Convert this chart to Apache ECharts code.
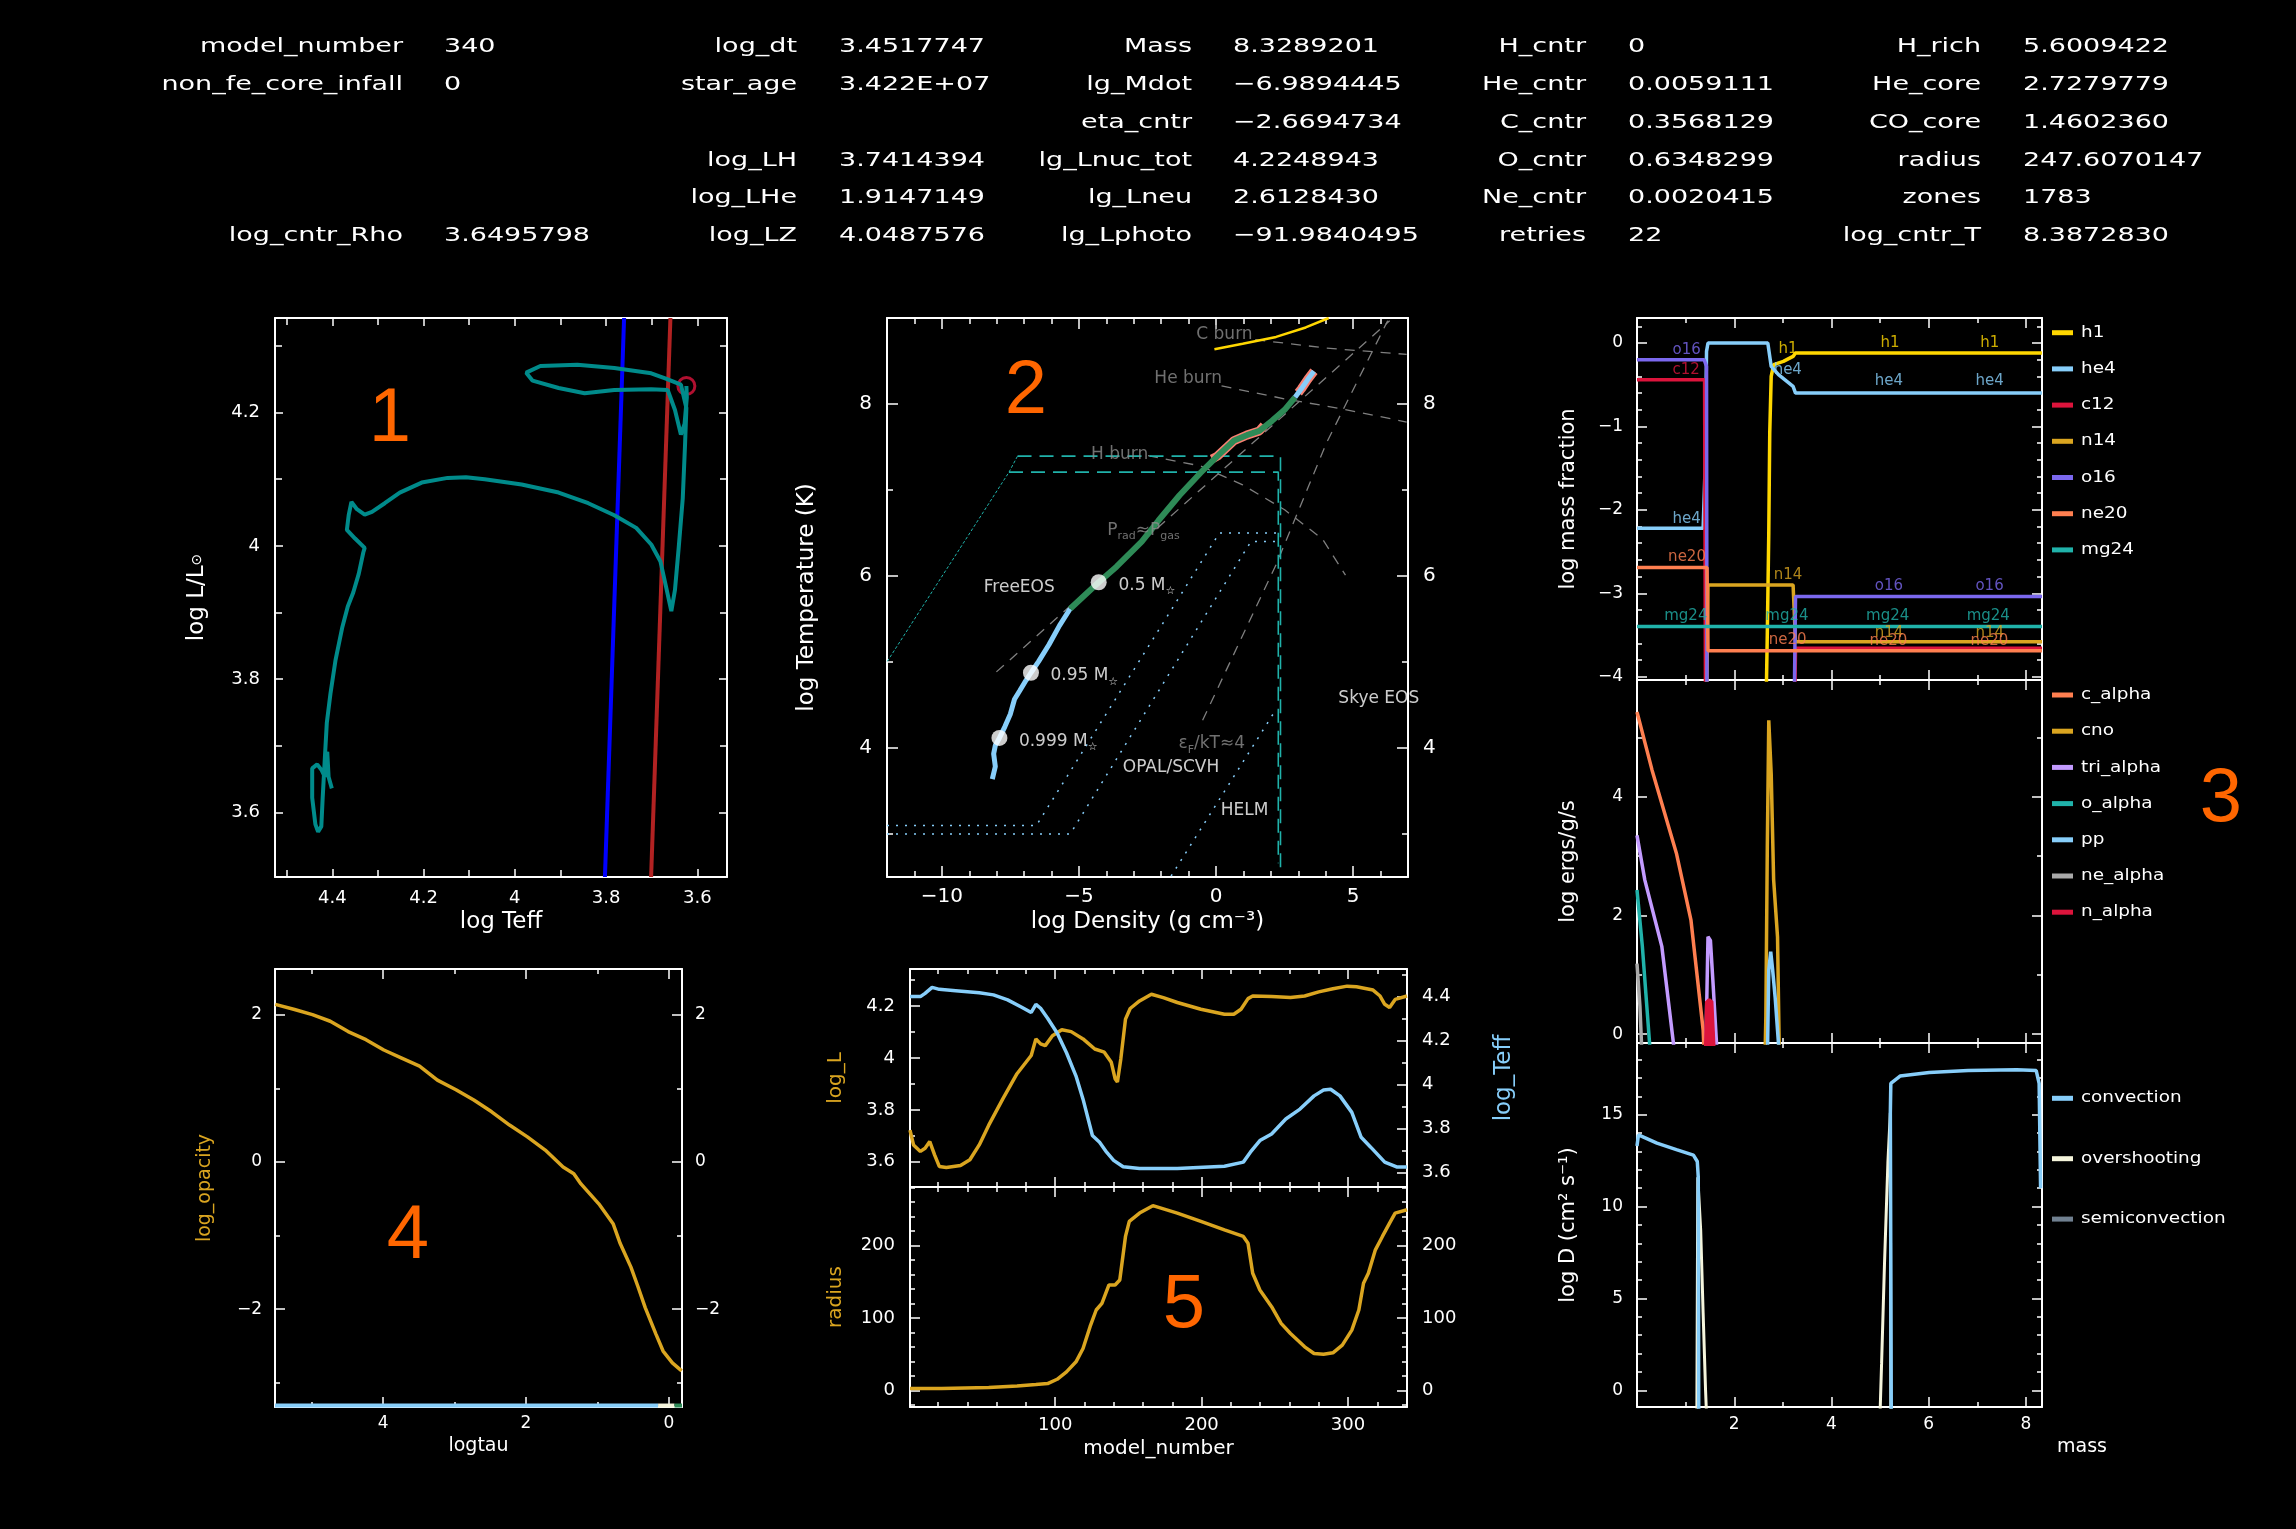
<!DOCTYPE html>
<html>
<head>
<meta charset="utf-8">
<title>pgstar grid</title>
<script src="https://cdn.jsdelivr.net/npm/echarts@6/dist/echarts.min.js"></script>
<style>
  html, body { margin: 0; padding: 0; background: #000; }
  #chart { width: 2296px; height: 1529px; }
</style>
</head>
<body>
<div id="chart"></div>
<script>
// ---------- header text ----------
const headNames = [
  ['model_number', 'non_fe_core_infall', '', '', '', 'log_cntr_Rho'],
  ['log_dt', 'star_age', '', 'log_LH', 'log_LHe', 'log_LZ'],
  ['Mass', 'lg_Mdot', 'eta_cntr', 'lg_Lnuc_tot', 'lg_Lneu', 'lg_Lphoto'],
  ['H_cntr', 'He_cntr', 'C_cntr', 'O_cntr', 'Ne_cntr', 'retries'],
  ['H_rich', 'He_core', 'CO_core', 'radius', 'zones', 'log_cntr_T']
];
const headValues = [
  ['340', '0', '', '', '', '3.6495798'],
  ['3.4517747', '3.422E+07', '', '3.7414394', '1.9147149', '4.0487576'],
  ['8.3289201', '\u22126.9894445', '\u22122.6694734', '4.2248943', '2.6128430', '\u221291.9840495'],
  ['0', '0.0059111', '0.3568129', '0.6348299', '0.0020415', '22'],
  ['5.6009422', '2.7279779', '1.4602360', '247.6070147', '1783', '8.3872830']
];

// ---------- panel 1: HR diagram (log Teff, log L) ----------
const hrTrack = [
  [4.401, 3.636], [4.408, 3.653], [4.411, 3.691], [4.415, 3.678], [4.416, 3.653],
  [4.423, 3.663], [4.433, 3.672], [4.444, 3.666], [4.444, 3.622], [4.437, 3.582],
  [4.431, 3.571], [4.424, 3.579], [4.421, 3.622], [4.416, 3.685], [4.412, 3.734],
  [4.404, 3.778], [4.393, 3.828], [4.378, 3.878], [4.366, 3.909], [4.354, 3.930],
  [4.342, 3.958], [4.332, 3.990], [4.329, 3.997], [4.350, 4.011], [4.368, 4.024],
  [4.364, 4.046], [4.358, 4.066], [4.346, 4.055], [4.329, 4.047], [4.313, 4.051],
  [4.285, 4.064], [4.252, 4.080], [4.204, 4.095], [4.147, 4.102], [4.107, 4.103],
  [4.066, 4.100], [3.985, 4.092], [3.904, 4.080], [3.839, 4.064], [3.782, 4.046],
  [3.734, 4.027], [3.701, 4.002], [3.681, 3.977], [3.669, 3.940], [3.657, 3.902],
  [3.649, 3.934], [3.641, 3.996], [3.632, 4.071], [3.627, 4.151], [3.624, 4.207],
  [3.636, 4.242], [3.669, 4.251], [3.701, 4.259], [3.782, 4.267], [3.863, 4.272],
  [3.944, 4.270], [3.975, 4.260], [3.961, 4.248], [3.904, 4.237], [3.847, 4.229],
  [3.782, 4.234], [3.701, 4.235], [3.665, 4.234], [3.649, 4.204], [3.636, 4.167],
  [3.628, 4.183], [3.623, 4.223], [3.624, 4.240]
];
const blueEdge = [[3.8025, 3.503], [3.7605, 4.342]];
const redEdge = [[3.7013, 3.503], [3.659, 4.342]];
const hrNow = [[3.624, 4.240]];

// ---------- panel 2: log rho - log T ----------
const profLow = [
  [-8.16, 3.638], [-8.05, 3.785], [-8.11, 3.932], [-8.05, 4.029], [-7.90, 4.117],
  [-7.70, 4.249], [-7.50, 4.396], [-7.35, 4.567], [-7.16, 4.665], [-6.93, 4.787],
  [-6.75, 4.875], [-6.47, 5.007], [-6.09, 5.203], [-5.71, 5.423], [-5.32, 5.619]
];
const profMid = [
  [-5.32, 5.619], [-4.86, 5.756], [-4.28, 5.927], [-3.63, 6.108], [-2.71, 6.401],
  [-2.10, 6.645], [-1.33, 6.939], [-0.57, 7.198], [0.05, 7.394], [0.66, 7.575],
  [1.12, 7.638], [1.58, 7.687], [2.04, 7.804], [2.50, 7.932], [2.88, 8.078]
];
const profTop = [[2.88, 8.078], [3.11, 8.176], [3.34, 8.284], [3.57, 8.381]];
const profEdgeA = [[-0.15, 7.36], [0.05, 7.394], [0.66, 7.575], [1.12, 7.638], [1.58, 7.687], [1.75, 7.75]];
const profEdgeB = [[3.0, 8.13], [3.11, 8.176], [3.34, 8.284], [3.57, 8.381]];
const massMarks = [[-4.28, 5.927], [-6.75, 4.875], [-7.90, 4.117]];
const burnC = [[-0.06, 8.636], [0.97, 8.70], [2.19, 8.78], [3.27, 8.89], [4.11, 9.0]];
const burnCdash = [[1.43, 8.748], [4.03, 8.65], [6.95, 8.577]];
const burnHeDash = [[0.2, 8.21], [2.5, 8.06], [4.65, 7.94], [6.95, 7.79]];
const burnHDash = [[-2.48, 7.40], [-0.57, 7.28], [0.97, 7.06], [2.5, 6.77], [3.88, 6.43], [4.72, 6.01]];
const pradLine = [[-8.01, 4.885], [6.33, 8.968]];
const degenLine = [[-0.49, 4.323], [2.19, 6.132], [4.03, 7.55], [6.26, 8.968]];
const freeEosA = [[-7.24, 7.394], [2.35, 7.394], [2.35, 2.587]];
const freeEosB = [[-7.55, 7.208], [2.27, 7.208], [2.27, 2.66]];
const freeEosDiag = [[-11.99, 5.007], [-7.55, 7.208], [-7.24, 7.394]];
const opalA = [[-12, 3.10], [-6.55, 3.10], [0.12, 6.50], [2.35, 6.50]];
const opalB = [[-12, 3.0], [-5.32, 3.0], [1.27, 6.40], [2.35, 6.40]];
const helmLine = [[-1.64, 2.51], [2.19, 4.45]];
const eosLabels = [
  ['FreeEOS', -8.47, 5.86], ['0.5 M{s|\u2606}', -3.56, 5.89], ['0.95 M{s|\u2606}', -6.04, 4.84],
  ['0.999 M{s|\u2606}', -7.19, 4.08], ['Skye EOS', 4.46, 4.57], ['OPAL/SCVH', -3.40, 3.77], ['HELM', 0.17, 3.27]
];
const burnLabels = [
  ['C burn', -0.72, 8.81], ['He burn', -2.25, 8.29], ['H burn', -4.56, 7.41],
  ['P{s|rad}\u2248P{s|gas}', -3.97, 6.53], ['\u03b5{s|F}/kT\u22484', -1.37, 4.05]
];

// ---------- panel 3: abundances, burning, mixing vs mass ----------
const abunNames = ['h1', 'he4', 'c12', 'n14', 'o16', 'ne20', 'mg24'];
const abunColors = ['#FFD700', '#87CEFA', '#DC143C', '#DAA520', '#7B68EE', '#FF7F50', '#20B2AA'];
const h1 = [[2.65, -4.5], [2.68, -3.48], [2.71, -2.28], [2.73, -1.08], [2.76, -0.40], [2.81, -0.26], [3.01, -0.22], [3.21, -0.16], [3.26, -0.12], [8.33, -0.12]];
const he4 = [[0, -2.22], [1.36, -2.22], [1.40, -1.5], [1.43, -0.1], [1.46, 0], [2.69, 0], [2.76, -0.28], [2.91, -0.38], [3.21, -0.52], [3.26, -0.60], [8.33, -0.60]];
const c12 = [[0, -0.44], [1.39, -0.44], [1.41, -4.5], [3.24, -4.5], [3.26, -3.66], [8.33, -3.66]];
const n14 = [[1.43, -4.5], [1.46, -2.9], [3.21, -2.9], [3.26, -3.58], [8.33, -3.58]];
const o16 = [[0, -0.20], [1.38, -0.20], [1.43, -0.28], [1.44, -4.5], [3.23, -4.5], [3.26, -3.04], [8.33, -3.04]];
const ne20 = [[0, -2.69], [1.44, -2.69], [1.46, -3.69], [8.33, -3.69]];
const mg24 = [[0, -3.40], [8.33, -3.40]];
const abunLabels = [
  ['o16', 0.73, -0.08], ['c12', 0.73, -0.33], ['he4', 0.73, -2.11], ['ne20', 0.64, -2.57], ['mg24', 0.56, -3.27],
  ['h1', 2.91, -0.07], ['he4', 2.81, -0.32], ['n14', 2.81, -2.78], ['mg24', 2.64, -3.27], ['ne20', 2.71, -3.56],
  ['h1', 5.01, 0.0], ['h1', 7.06, 0.0], ['he4', 4.89, -0.46], ['he4', 6.96, -0.46],
  ['o16', 4.89, -2.92], ['o16', 6.96, -2.92], ['mg24', 4.71, -3.27], ['mg24', 6.78, -3.27],
  ['n14', 4.89, -3.48], ['n14', 6.96, -3.48], ['ne20', 4.78, -3.57], ['ne20', 6.86, -3.57]
];

const burnNames = ['c_alpha', 'cno', 'tri_alpha', 'o_alpha', 'pp', 'ne_alpha', 'n_alpha'];
const burnColors = ['#FF7F50', '#DAA520', '#C39BFF', '#20B2AA', '#87CEFA', '#A9A9A9', '#DC143C'];
const cAlpha = [[0, 5.43], [0.31, 4.45], [0.81, 3.05], [1.11, 1.92], [1.36, 0.07], [1.39, -0.5]];
const cno = [[2.63, -0.5], [2.65, 0.3], [2.68, 3.16], [2.71, 5.29], [2.73, 5.3], [2.76, 4.39], [2.81, 2.6], [2.89, 1.64], [2.93, -0.5]];
const triAlpha = [[0, 3.35], [0.16, 2.6], [0.51, 1.48], [0.80, -0.5], [1.41, -0.5], [1.46, 1.64], [1.51, 1.58], [1.56, 0.91], [1.66, -0.5]];
const oAlpha = [[0, 2.43], [0.11, 1.48], [0.29, -0.5]];
const pp = [[2.68, -0.5], [2.71, 1.08], [2.75, 1.39], [2.79, 1.08], [2.84, 0.63], [2.94, -0.5]];
const neAlpha = [[0, 1.19], [0.06, 0.47], [0.11, -0.5]];
const nAlpha = [[1.43, -0.5], [1.46, 0.55], [1.51, 0.55], [1.57, -0.5]];

const mixNames = ['convection', 'overshooting', 'semiconvection'];
const mixColors = ['#87CEFA', '#F5F5DC', '#708090'];
const convection = [[0, 13.3], [0.03, 13.9], [0.41, 13.45], [0.81, 13.1], [1.16, 12.8], [1.24, 12.45], [1.26, 11.6], [1.27, -2],
  [5.23, -2], [5.21, 15.1], [5.22, 16.7], [5.41, 17.1], [6.01, 17.3], [6.81, 17.4], [7.81, 17.45], [8.21, 17.4], [8.27, 16.7], [8.30, 11]];
const overshoot = [[1.23, -2], [1.25, 11.6], [1.31, 8.7], [1.36, 4.2], [1.41, 0], [1.44, -2],
  [4.99, -2], [5.03, 1.45], [5.09, 6.9], [5.16, 12.4], [5.21, 15.1], [5.22, -2]];

// ---------- panel 4: opacity vs logtau ----------
const opacity = [
  [5.51, 2.14], [5.24, 2.07], [4.99, 2.0], [4.74, 1.91], [4.49, 1.77], [4.24, 1.66], [3.99, 1.52],
  [3.74, 1.41], [3.49, 1.30], [3.24, 1.11], [2.98, 0.98], [2.73, 0.84], [2.48, 0.68], [2.23, 0.5],
  [1.98, 0.34], [1.73, 0.16], [1.48, -0.07], [1.33, -0.16], [1.23, -0.30], [0.98, -0.57], [0.78, -0.84],
  [0.68, -1.11], [0.53, -1.43], [0.43, -1.70], [0.33, -1.98], [0.18, -2.34], [0.08, -2.57], [-0.05, -2.73], [-0.18, -2.84]
];
const tauConv = [[5.514, -3.31], [0.15, -3.31]];
const tauOver = [[0.15, -3.31], [-0.08, -3.31]];
const tauNone = [[-0.08, -3.31], [-0.185, -3.31]];

// ---------- panel 5: history vs model_number ----------
const histLogL = [
  [0.8, 3.722], [3.2, 3.665], [7.9, 3.64], [11.1, 3.652], [14.3, 3.678], [17.6, 3.627], [20.8, 3.582],
  [25.6, 3.578], [35.3, 3.586], [41.7, 3.608], [48.1, 3.665], [54.6, 3.741], [64.3, 3.843], [73.9, 3.939],
  [83.6, 4.009], [86.8, 4.073], [90.0, 4.054], [93.2, 4.047], [98.1, 4.085], [104.5, 4.108], [110.9, 4.101],
  [119, 4.073], [127, 4.034], [133.5, 4.022], [138.3, 3.983], [140.9, 3.920], [142.5, 3.907], [144.8, 3.996],
  [148, 4.149], [151.2, 4.19], [157.6, 4.219], [165.7, 4.245], [173.8, 4.232], [183.4, 4.213], [199.5, 4.187],
  [215.6, 4.168], [222, 4.168], [226.9, 4.187], [231.7, 4.228], [234.9, 4.238], [247.8, 4.236], [260.7, 4.232],
  [270.4, 4.238], [280, 4.254], [289.7, 4.266], [299.4, 4.276], [305.8, 4.274], [317.1, 4.261], [321.9, 4.238],
  [325.1, 4.206], [328.4, 4.194], [332.2, 4.225], [340.3, 4.238]
];
const histTeff = [
  [0.8, 4.4], [7.9, 4.4], [11.1, 4.415], [15.9, 4.442], [20.8, 4.433], [32.0, 4.427], [48.1, 4.418],
  [57.8, 4.408], [67.5, 4.385], [77.1, 4.352], [83.6, 4.328], [86.8, 4.365], [90, 4.347], [94.8, 4.302],
  [101.3, 4.235], [107.7, 4.145], [114.2, 4.039], [119, 3.934], [125.4, 3.769], [130.3, 3.738], [135.1, 3.693],
  [139.9, 3.656], [146.4, 3.627], [157.6, 3.619], [183.4, 3.619], [215.6, 3.629], [228.5, 3.648], [233.3, 3.693],
  [239.8, 3.746], [247.8, 3.776], [257.5, 3.844], [267.2, 3.889], [276.8, 3.949], [283.3, 3.976], [288.1, 3.979],
  [294.5, 3.949], [302.6, 3.874], [309, 3.761], [315.5, 3.716], [325.1, 3.648], [333.2, 3.626], [340.3, 3.626]
];
const histRadius = [
  [0.8, 2.3], [22.4, 2.3], [54.6, 3.7], [73.9, 6], [86.8, 7.9], [94.8, 9.2], [101.3, 15.2], [107.7, 25.4],
  [114.2, 39.3], [119, 57.7], [123.8, 87.8], [128, 110.9], [131.9, 120.1], [136.7, 145.5], [140.9, 145.5],
  [144.1, 152.4], [148, 212.5], [150.6, 233.3], [157.6, 244.8], [166.7, 255], [183.4, 244.8], [199.5, 233.3],
  [215.6, 221.7], [228.5, 212.5], [231.7, 203.2], [234.9, 161.7], [239.8, 138.6], [247.8, 115.5], [254.3, 92.4],
  [260.7, 78.5], [270.4, 60], [276.8, 50.8], [283.3, 49.9], [289.7, 51.7], [296.1, 62.4], [302.6, 83.1],
  [307.4, 110.9], [310.6, 147.8], [313.9, 161.7], [318.7, 194], [323.5, 212.5], [328.4, 230.9], [332.2, 244.8], [340.3, 249.4]
];

// ---------- helpers ----------
const FONT = 'DejaVu Sans';
const ORANGE = '#FF6600';
const GOLD = '#DAA520';
const SKY = '#87CEFA';

function onStep(v, s) { const k = v / s; return Math.abs(k - Math.round(k)) < 1e-6; }
function fmtNum(v) { return String(+v.toFixed(4)).replace('-', '\u2212'); }

const xAxes = [], yAxes = [];

function axis(grid, pos, range, step, len, o) {
  o = o || {};
  const hide = o.hide || [];
  const a = {
    type: 'value', gridIndex: grid, position: pos,
    min: range[0], max: range[1], minInterval: step, maxInterval: step,
    inverse: !!o.inverse,
    axisLine: { show: !o.minor, onZero: false, lineStyle: { color: '#fff', width: 2 } },
    axisTick: { show: true, inside: true, length: len, lineStyle: { color: '#fff', width: 1.5 } },
    axisLabel: {
      show: !!o.label, color: '#fff', fontFamily: FONT, fontSize: o.fs || 17, margin: o.margin || 12,
      formatter: function (v) {
        if (hide.some(function (h) { return Math.abs(h - v) < 1e-9; })) return '';
        return onStep(v, step) ? fmtNum(v) : '';
      }
    },
    splitLine: { show: false }
  };
  if (o.name) {
    a.name = o.name;
    a.nameLocation = 'middle';
    a.nameGap = o.gap;
    if (o.rotate != null) a.nameRotate = o.rotate;
    a.nameTextStyle = { color: o.nameColor || '#fff', fontFamily: FONT, fontSize: o.nameFs || 21, rich: o.rich };
  }
  return a;
}

// four sides of a pgplot-style box, major + minor ticks pointing in
function addBox(g, s) {
  const xi = xAxes.length, yi = yAxes.length;
  xAxes.push(axis(g, 'bottom', s.x, s.xMaj, s.majLen, { inverse: s.xInv, label: s.xLabel, hide: s.xHide, fs: s.fs, margin: s.xMargin, name: s.xName, gap: s.xGap, nameFs: s.nameFs }));
  xAxes.push(axis(g, 'bottom', s.x, s.xMin, s.minLen, { inverse: s.xInv, minor: true }));
  xAxes.push(axis(g, 'top', s.x, s.xMaj, s.majLen, { inverse: s.xInv }));
  xAxes.push(axis(g, 'top', s.x, s.xMin, s.minLen, { inverse: s.xInv, minor: true }));
  const y2 = s.y2 || s.y, y2Maj = s.y2Maj || s.yMaj, y2Min = s.y2Min || s.yMin;
  yAxes.push(axis(g, 'left', s.y, s.yMaj, s.majLen, { label: true, fs: s.fs, margin: s.yMargin, name: s.yName, gap: s.yGap, nameFs: s.nameFs, nameColor: s.yNameColor, rotate: 90, rich: s.rich }));
  yAxes.push(axis(g, 'left', s.y, s.yMin, s.minLen, { minor: true }));
  yAxes.push(axis(g, 'right', y2, y2Maj, s.majLen, { label: s.rightLabel, fs: s.fs, margin: s.yMargin, name: s.y2Name, gap: s.y2Gap, nameFs: s.y2NameFs, nameColor: s.y2NameColor, rotate: 90 }));
  yAxes.push(axis(g, 'right', y2, y2Min, s.minLen, { minor: true }));
  return { x: xi, y: yi, y2: yi + 2 };
}

function line(ax, data, color, width, dash, right) {
  return {
    type: 'line', xAxisIndex: ax.x, yAxisIndex: right ? ax.y2 : ax.y, data: data,
    symbol: 'none', silent: true, clip: true,
    lineStyle: { color: color, width: width, type: dash || 'solid' }, itemStyle: { color: color }
  };
}

function labels(ax, items, colorOf, fs, rich) {
  return {
    type: 'scatter', xAxisIndex: ax.x, yAxisIndex: ax.y, symbolSize: 0, silent: true, z: 4,
    data: items.map(function (t) { return { name: t[0], value: [t[1], t[2]], label: { color: colorOf(t[0]) } }; }),
    label: { show: true, position: 'right', distance: 0, formatter: '{b}', fontFamily: FONT, fontSize: fs, rich: rich }
  };
}

const subRich = { s: { fontSize: 11, padding: [12, 0, 0, 0] } };

// ---------- grids ----------
const grids = [
  { left: 275, top: 318, width: 452, height: 559 },   // 1
  { left: 887, top: 318, width: 521, height: 559 },   // 2
  { left: 1637, top: 318, width: 405, height: 362 },  // 3 top
  { left: 1637, top: 680, width: 405, height: 363 },  // 3 mid
  { left: 1637, top: 1043, width: 405, height: 364 }, // 3 bottom
  { left: 275, top: 969, width: 407, height: 438 },   // 4
  { left: 910, top: 969, width: 497, height: 218 },   // 5 top
  { left: 910, top: 1187, width: 497, height: 220 }   // 5 bottom
];

const A1 = addBox(0, { x: [3.535, 4.5255], xInv: true, xMaj: 0.2, xMin: 0.1, y: [3.503, 4.342], yMaj: 0.2, yMin: 0.1,
  majLen: 8, minLen: 7, fs: 18, xLabel: true, xMargin: 12, yMargin: 15, nameFs: 23,
  xName: 'log Teff', xGap: 34, yName: 'log L/L{s|\u2299}', yGap: 66,
  rich: { s: { fontSize: 14, padding: [0, 0, 0, 0] } } });
const A2 = addBox(1, { x: [-12, 7], xMaj: 5, xMin: 1, y: [2.5, 9], yMaj: 2, yMin: 1,
  majLen: 11, minLen: 6, fs: 20, xLabel: true, rightLabel: true, xMargin: 10, yMargin: 15, nameFs: 23,
  xName: 'log Density (g cm\u207b\u00b3)', xGap: 34, yName: 'log Temperature (K)', yGap: 68 });
const A3a = addBox(2, { x: [0, 8.329], xMaj: 2, xMin: 1, y: [-4.04, 0.3], yMaj: 1, yMin: 0.2,
  majLen: 10, minLen: 5, fs: 17, yMargin: 14, nameFs: 21, yName: 'log mass fraction', yGap: 58 });
const A3b = addBox(3, { x: [0, 8.329], xMaj: 2, xMin: 1, y: [-0.15, 5.97], yMaj: 2, yMin: 1,
  majLen: 10, minLen: 5, fs: 17, yMargin: 14, nameFs: 21, yName: 'log ergs/g/s', yGap: 58 });
const A3c = addBox(4, { x: [0, 8.329], xMaj: 2, xMin: 1, y: [-0.91, 18.9], yMaj: 5, yMin: 1,
  majLen: 10, minLen: 5, fs: 17, xLabel: true, xHide: [0], xMargin: 9, yMargin: 14, nameFs: 21, yName: 'log D (cm\u00b2 s\u207b\u00b9)', yGap: 58 });
const A4 = addBox(5, { x: [-0.185, 5.514], xInv: true, xMaj: 2, xMin: 1, y: [-3.33, 2.62], yMaj: 2, yMin: 1,
  majLen: 10, minLen: 5, fs: 17, xLabel: true, rightLabel: true, xMargin: 8, yMargin: 13, nameFs: 19,
  xName: 'logtau', xGap: 30, yName: 'log_opacity', yNameColor: GOLD, yGap: 60 });
const A5a = addBox(6, { x: [0.8, 340.3], xMaj: 100, xMin: 20, y: [3.503, 4.342], yMaj: 0.2, yMin: 0.1,
  y2: [3.535, 4.5255], majLen: 10, minLen: 5, fs: 18, rightLabel: true, yMargin: 15, nameFs: 20,
  yName: 'log_L', yNameColor: GOLD, yGap: 64, y2Name: 'log_Teff', y2NameColor: SKY, y2NameFs: 23, y2Gap: 86 });
const A5b = addBox(7, { x: [0.8, 340.3], xMaj: 100, xMin: 20, y: [-23.1, 280.8], yMaj: 100, yMin: 20,
  majLen: 10, minLen: 5, fs: 18, xLabel: true, rightLabel: true, xMargin: 9, yMargin: 15, nameFs: 20,
  xName: 'model_number', xGap: 32, yName: 'radius', yNameColor: GOLD, yGap: 64 });

// ---------- series ----------
const series = [];
// 1
series.push(line(A1, blueEdge, '#0000FF', 4));
series.push(line(A1, redEdge, '#B22222', 4));
series.push(line(A1, hrTrack, '#008B8B', 4));
series.push({ type: 'scatter', xAxisIndex: A1.x, yAxisIndex: A1.y, data: hrNow, symbol: 'circle', symbolSize: 17, silent: true,
  itemStyle: { color: 'rgba(0,0,0,0)', borderColor: '#DC143C', borderWidth: 3 } });
// 2
[burnCdash, burnHeDash, burnHDash, pradLine, degenLine].forEach(function (d) { series.push(line(A2, d, '#7f7f7f', 1.3, [10, 8])); });
series.push(line(A2, freeEosA, '#20B2AA', 1.6, [14, 8]));
series.push(line(A2, freeEosB, '#20B2AA', 1.6, [14, 8]));
series.push(line(A2, freeEosDiag, '#20B2AA', 1, [3, 2]));
[opalA, opalB, helmLine].forEach(function (d) { series.push(line(A2, d, SKY, 1.5, [2, 7])); });
series.push(line(A2, burnC, '#FFD700', 2.5));
series.push(line(A2, profEdgeA, '#FA8072', 9));
series.push(line(A2, profEdgeB, '#FA8072', 9));
series.push(line(A2, profLow, SKY, 5));
series.push(line(A2, profMid, '#2E8B57', 6));
series.push(line(A2, profTop, SKY, 5));
series.push({ type: 'scatter', xAxisIndex: A2.x, yAxisIndex: A2.y, data: massMarks, symbol: 'circle', symbolSize: 16, silent: true, z: 5,
  itemStyle: { color: '#ffffff' } });
series.push(labels(A2, eosLabels, function () { return '#ffffff'; }, 17, subRich));
series.push(labels(A2, burnLabels, function () { return '#8c8c8c'; }, 17, subRich));
// 3
[h1, he4, c12, n14, o16, ne20, mg24].forEach(function (d, i) { series.push(line(A3a, d, abunColors[i], 3.5)); });
series.push(labels(A3a, abunLabels, function (n) { return abunColors[abunNames.indexOf(n)]; }, 15));
[cAlpha, cno, triAlpha, oAlpha, pp, neAlpha].forEach(function (d, i) { series.push(line(A3b, d, burnColors[i], 3.5)); });
series.push(line(A3b, nAlpha, burnColors[6], 6));
series.push(line(A3c, overshoot, mixColors[1], 3));
series.push(line(A3c, convection, mixColors[0], 3.5));
// 4
series.push(line(A4, opacity, GOLD, 3.5));
series.push(line(A4, tauConv, SKY, 4));
series.push(line(A4, tauOver, '#F5F5DC', 4));
series.push(line(A4, tauNone, '#2E8B57', 4));
// 5
series.push(line(A5a, histLogL, GOLD, 3.5));
series.push(line(A5a, histTeff, SKY, 3.5, null, true));
series.push(line(A5b, histRadius, GOLD, 3.5));

// ---------- graphics: header, legends, panel numbers ----------
const graphics = [];
const headNameX = [403, 797, 1192, 1586, 1981];
const headValX = [444, 839, 1233, 1628, 2023];
for (let c = 0; c < headNames.length; c++) {
  for (let r = 0; r < 6; r++) {
    if (!headNames[c][r]) continue;
    const y = 47 + r * 37.8;
    graphics.push({ type: 'text', x: headNameX[c], y: y, scaleX: 1.35, silent: true,
      style: { text: headNames[c][r], fill: '#fff', fontFamily: FONT, fontSize: 20, align: 'right', verticalAlign: 'middle' } });
    graphics.push({ type: 'text', x: headValX[c], y: y, scaleX: 1.35, silent: true,
      style: { text: headValues[c][r], fill: '#fff', fontFamily: FONT, fontSize: 20, align: 'left', verticalAlign: 'middle' } });
  }
}

function legendBlock(names, colors, y0, dy) {
  names.forEach(function (n, i) {
    const y = y0 + i * dy;
    graphics.push({ type: 'line', silent: true, shape: { x1: 2052, y1: y, x2: 2073, y2: y }, style: { stroke: colors[i], lineWidth: 5 } });
    graphics.push({ type: 'text', x: 2081, y: y, scaleX: 1.15, silent: true,
      style: { text: n, fill: '#fff', fontFamily: FONT, fontSize: 16, align: 'left', verticalAlign: 'middle' } });
  });
}
legendBlock(abunNames, abunColors, 332.7, 36.2);
legendBlock(burnNames, burnColors, 695, 36.2);
legendBlock(mixNames, mixColors, 1098.3, 60.4);
graphics.push({ type: 'text', x: 2057, y: 1447, silent: true,
  style: { text: 'mass', fill: '#fff', fontFamily: FONT, fontSize: 19, align: 'left', verticalAlign: 'middle' } });

const panelNums = [['1', 390, 420], ['2', 1026, 392], ['3', 2221, 800], ['4', 408, 1237], ['5', 1184, 1306]];
panelNums.forEach(function (p) {
  graphics.push({ type: 'text', x: p[1], y: p[2], silent: true,
    style: { text: p[0], fill: ORANGE, fontFamily: 'Liberation Sans', fontSize: 76, align: 'center', verticalAlign: 'middle' } });
});

const chart = echarts.init(document.getElementById('chart'));
chart.setOption({
  backgroundColor: '#000000',
  animation: false,
  grid: grids,
  xAxis: xAxes,
  yAxis: yAxes,
  series: series,
  graphic: graphics
});
</script>
</body>
</html>
